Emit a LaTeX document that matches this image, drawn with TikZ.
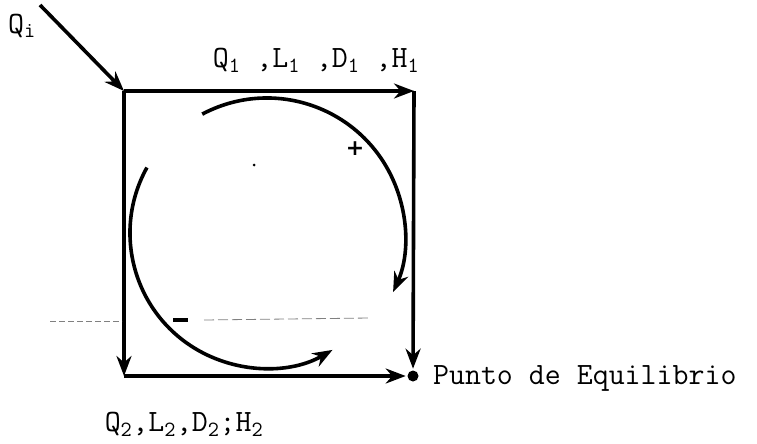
\documentclass[tikz,border=0pt]{standalone}
\usepackage{fontspec}
\newfontfamily\signfont{DejaVu Sans}
\usetikzlibrary{arrows.meta}

\begin{document}
\begin{tikzpicture}[x=1pt, y=-1pt, line width=3.6pt,
    >={Stealth[length=20pt,width=15pt]},
    every node/.style={font=\ttfamily\fontsize{31}{33}\selectfont}]
    \useasboundingbox (0,0) rectangle (757,444);

    % Corners of the box
    \coordinate (topLeft) at (124,91);
    \coordinate (topRight) at (414,91);
    \coordinate (bottomLeft) at (124,376);
    \coordinate (inflowStart) at (40,5);
    \node[circle, fill, inner sep=0pt, minimum size=11pt] (equilibrium) at (413,376) {};

    % Inflow
    \draw[->] (inflowStart) -- (topLeft);
    \node (inflowLabel) at (22,26) {Q\textsubscript{i}};

    % Box
    \draw[->] (topLeft) -- (topRight);
    \draw[->] (topRight) -- (equilibrium);
    \draw[->] (topLeft) -- (bottomLeft);
    \draw[->] (bottomLeft) -- (equilibrium);

    % Labels
    \node (upperState) at (316,60) {Q\textsubscript{1} ,L\textsubscript{1} ,D\textsubscript{1} ,H\textsubscript{1}};
    \node (lowerState) at (184,424) {Q\textsubscript{2},L\textsubscript{2},D\textsubscript{2};H\textsubscript{2}};
    \node[anchor=west] (equilibriumLabel) at (428,378) {Punto de Equilibrio};

    % Positive loop
    \draw[->] (267,236) ++(242:138) arc (242:384:138);
    \node[font=\signfont\bfseries\fontsize{22}{24}\selectfont] (plus) at (355,149) {+};

    % Negative loop
    \draw[->] (265,233) ++(209:135) arc (209:60:135);
    \draw (173,320) -- (188,320);

    % Faint line across
    \draw[gray, line width=0.6pt, dash pattern=on 6pt off 3pt] (50,321) -- (122,321);
    \draw[gray, line width=0.8pt, dash pattern=on 10pt off 4pt] (204,320) -- (370,318);

    % Centre
    \fill (254,165) circle (1.5pt);

\end{tikzpicture}
\end{document}
